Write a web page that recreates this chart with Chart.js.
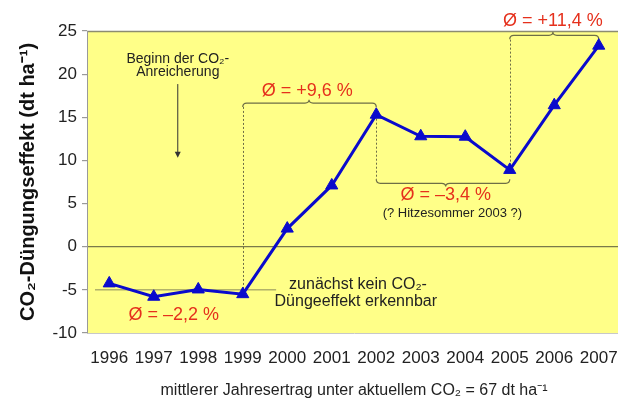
<!DOCTYPE html>
<html>
<head>
<meta charset="utf-8">
<script src="https://cdn.jsdelivr.net/npm/chart.js@4"></script>
<style>
  html, body { margin: 0; padding: 0; background: #fff; overflow: hidden; }
  #wrap { width: 621px; height: 401px; position: relative; }
</style>
</head>
<body>
<div id="wrap"><canvas id="co2Chart"></canvas></div>
<script>
  // DATA
  const years = ['1996', '1997', '1998', '1999', '2000', '2001', '2002', '2003', '2004', '2005', '2006', '2007'];
  const effect = [-4.25, -5.8, -4.95, -5.5, 2.1, 7.1, 15.3, 12.8, 12.75, 8.9, 16.4, 23.3];
  const yTicks = [-10, -5, 0, 5, 10, 15, 20, 25];

  const FONT = '"Liberation Sans", Arial, sans-serif';
  const RED = '#e5301c';
  const OLIVE = '#6e6e46';

  // notes in data coords (x = category index, y = value)
  const redNotes = [
    { text: 'Ø = –2,2 %', x: 1.45, y: -7.9 },
    { text: 'Ø = +9,6 %', x: 4.45, y: 18.05 },
    { text: 'Ø = –3,4 %', x: 7.56, y: 6.0 },
    { text: 'Ø = +11,4 %', x: 9.97, y: 26.15 },
  ];
  const blackNotes = [
    { text: 'Beginn der CO₂-', x: 1.54, y: 21.75, size: 14 },
    { text: 'Anreicherung', x: 1.54, y: 20.2, size: 14 },
    { text: '(? Hitzesommer 2003 ?)', x: 7.71, y: 3.9, size: 13 },
    { text: 'zunächst kein CO₂-', x: 5.59, y: -4.44, size: 16 },
    { text: 'Düngeeffekt erkennbar', x: 5.54, y: -6.41, size: 16 },
  ];
  // braces: from x1 to x2 at y, tip at xm, dir -1 = tip up, 1 = tip down
  const braces = [
    { x1: 3, x2: 6, xm: 4.49, y: 16.65, dir: -1 },
    { x1: 6, x2: 9, xm: 7.56, y: 7.35, dir: 1 },
    { x1: 9, x2: 11, xm: 9.97, y: 24.5, dir: -1 },
  ];
  const dotted = [
    { x: 3, y1: 16.2, y2: -5.5 },
    { x: 6, y1: 15.3, y2: 7.8 },
    { x: 9, y1: 24.0, y2: 8.9 },
  ];

  const bgPlugin = {
    id: 'yellowBg',
    beforeDraw(chart) {
      const { ctx, chartArea: a } = chart;
      ctx.save();
      ctx.fillStyle = '#ffff88';
      ctx.fillRect(a.left, a.top, a.right - a.left, a.bottom - a.top);
      ctx.strokeStyle = '#8c8c70';
      ctx.lineWidth = 1.5;
      ctx.beginPath();
      ctx.moveTo(a.left, a.top + 0.5);
      ctx.lineTo(a.right, a.top + 0.5);
      ctx.stroke();
      ctx.restore();
    }
  };

  const notesPlugin = {
    id: 'notes',
    beforeDatasetsDraw(chart) {
      const { ctx } = chart;
      const xs = chart.scales.x, ys = chart.scales.y;
      const px = v => xs.getPixelForValue(v);
      const py = v => ys.getPixelForValue(v);
      ctx.save();

      // -5 reference line
      ctx.strokeStyle = '#8a8a5a';
      ctx.lineWidth = 1;
      ctx.beginPath();
      ctx.moveTo(px(-0.32), py(-5));
      ctx.lineTo(px(3.75), py(-5));
      ctx.stroke();

      // dotted verticals
      ctx.setLineDash([2, 2]);
      ctx.strokeStyle = OLIVE;
      dotted.forEach(d => {
        ctx.beginPath();
        ctx.moveTo(Math.round(px(d.x)) + 0.5, py(d.y1));
        ctx.lineTo(Math.round(px(d.x)) + 0.5, py(d.y2));
        ctx.stroke();
      });
      ctx.setLineDash([]);

      // braces
      ctx.strokeStyle = OLIVE;
      ctx.lineWidth = 1.2;
      const a = 4;
      braces.forEach(b => {
        const x1 = px(b.x1), x2 = px(b.x2), xm = px(b.xm), y = py(b.y), d = b.dir;
        ctx.beginPath();
        ctx.moveTo(x1, y - d * a);
        ctx.quadraticCurveTo(x1, y, x1 + a, y);
        ctx.lineTo(xm - a, y);
        ctx.quadraticCurveTo(xm, y, xm, y + d * a * 0.8);
        ctx.quadraticCurveTo(xm, y, xm + a, y);
        ctx.lineTo(x2 - a, y);
        ctx.quadraticCurveTo(x2, y, x2, y - d * a);
        ctx.stroke();
      });

      // arrow
      const ax = px(1.54), ay1 = py(18.85), ay2 = py(10.3);
      ctx.strokeStyle = '#333';
      ctx.lineWidth = 1;
      ctx.beginPath();
      ctx.moveTo(ax, ay1);
      ctx.lineTo(ax, ay2 - 4);
      ctx.stroke();
      ctx.fillStyle = '#333';
      ctx.beginPath();
      ctx.moveTo(ax - 3, ay2 - 6);
      ctx.lineTo(ax + 3, ay2 - 6);
      ctx.lineTo(ax, ay2);
      ctx.closePath();
      ctx.fill();

      // texts
      ctx.textAlign = 'center';
      ctx.textBaseline = 'middle';
      ctx.fillStyle = RED;
      ctx.font = '18px ' + FONT;
      redNotes.forEach(n => ctx.fillText(n.text, px(n.x), py(n.y)));
      ctx.fillStyle = '#222';
      blackNotes.forEach(n => {
        ctx.font = n.size + 'px ' + FONT;
        ctx.fillText(n.text, px(n.x), py(n.y));
      });
      ctx.restore();
    }
  };

  const ctx = document.getElementById('co2Chart').getContext('2d');
  const chart = new Chart(ctx, {
    type: 'line',
    data: {
      labels: years,
      datasets: [{
        data: effect,
        borderColor: '#0a0acc',
        backgroundColor: '#0a0acc',
        borderWidth: 3,
        pointStyle: 'triangle',
        pointRadius: 7,
        pointBorderWidth: 1,
        tension: 0,
        clip: false,
      }]
    },
    options: {
      responsive: true,
      maintainAspectRatio: false,
      animation: false,
      layout: { autoPadding: false, padding: { top: 31, left: 0, right: 0, bottom: 0 } },
      plugins: { legend: { display: false }, tooltip: { enabled: false } },
      scales: {
        x: {
          offset: true,
          // invisible tick marks just push the labels down
          grid: { display: false, drawTicks: true, tickLength: 12, tickColor: 'transparent' },
          border: { display: true, color: '#c8c8c8' },
          ticks: { color: '#222', font: { size: 17, family: FONT }, padding: 3, autoSkip: false, maxRotation: 0 },
          title: {
            display: true,
            text: 'mittlerer Jahresertrag unter aktuellem CO₂ = 67 dt ha⁻¹',
            color: '#222',
            font: { size: 16, family: FONT },
            padding: { top: 0, bottom: 1 }
          },
          afterFit: s => { s.height = 68; s.paddingRight = 0; }
        },
        y: {
          min: -10,
          max: 25,
          afterBuildTicks: s => { s.ticks = yTicks.map(v => ({ value: v })); },
          grid: {
            color: c => c.tick && c.tick.value === 0 ? '#7a7a4a' : 'transparent',
            lineWidth: 1.2,
            tickColor: '#999',
            tickLength: 5
          },
          border: { display: true, color: '#999' },
          ticks: { color: '#222', font: { size: 17, family: FONT }, padding: 5 },
          title: {
            display: true,
            text: 'CO₂-Düngungseffekt (dt ha⁻¹)',
            color: '#111',
            font: { size: 20, weight: 'bold', family: FONT },
            padding: { top: 16, bottom: 0 }
          },
          afterFit: s => { s.width = 87; }
        }
      }
    },
    plugins: [bgPlugin, notesPlugin]
  });
</script>
</body>
</html>
